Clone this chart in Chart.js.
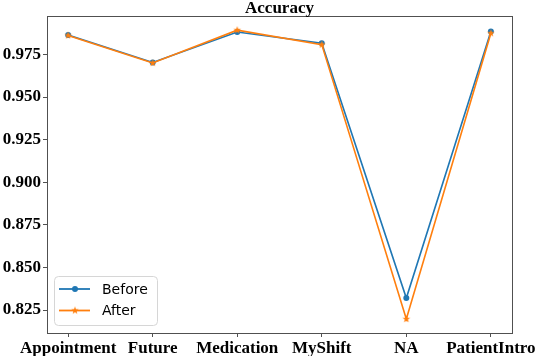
<!DOCTYPE html>
<html>
<head>
<meta charset="utf-8">
<script src="https://cdn.jsdelivr.net/npm/chart.js@4/dist/chart.umd.min.js"></script>
<style>
  html, body { margin: 0; padding: 0; background: #fff; }
  #wrap { width: 538px; height: 356px; }
</style>
</head>
<body>
<div id="wrap"><canvas id="c" width="538" height="356"></canvas></div>
<script>
const categories = ['Appointment', 'Future', 'Medication', 'MyShift', 'NA', 'PatientIntro'];
const beforeValues = [0.9865, 0.9703, 0.9882, 0.9816, 0.8320, 0.9885];
const afterValues = [0.9862, 0.9700, 0.9893, 0.9808, 0.8197, 0.9875];
const yTicks = [0.825, 0.850, 0.875, 0.900, 0.925, 0.950, 0.975];
const titleText = 'Accuracy';

const BLUE = '#1f77b4';
const ORANGE = '#ff7f0e';
const SERIF = '"Liberation Serif", "Times New Roman", serif';

function makeStar(color, r) {
  const s = Math.ceil(r * 2 + 2);
  const cv = document.createElement('canvas');
  cv.width = s; cv.height = s;
  const c = cv.getContext('2d');
  c.beginPath();
  for (let i = 0; i < 10; i++) {
    const rad = i % 2 === 0 ? r : r * 0.42;
    const a = -Math.PI / 2 + i * Math.PI / 5;
    const x = s / 2 + rad * Math.cos(a), y = s / 2 + rad * Math.sin(a);
    if (i === 0) c.moveTo(x, y); else c.lineTo(x, y);
  }
  c.closePath();
  c.fillStyle = color;
  c.fill();
  return cv;
}
const starImg = makeStar(ORANGE, 4);

const framePlugin = {
  id: 'frame',
  afterDraw(chart) {
    const {ctx, chartArea: a} = chart;
    ctx.save();
    ctx.strokeStyle = '#505050';
    ctx.lineWidth = 1;
    ctx.strokeRect(Math.round(a.left) + 0.5, Math.round(a.top) + 0.5,
                   Math.round(a.right - a.left), Math.round(a.bottom - a.top));
    // title centred over the plot area
    ctx.fillStyle = '#000';
    ctx.font = 'bold 17px ' + SERIF;
    ctx.textAlign = 'center';
    ctx.textBaseline = 'alphabetic';
    ctx.fillText(titleText, (a.left + a.right) / 2, a.top - 3);

    // legend box in lower-left of plot area
    const bx = a.left + 7, by = a.bottom - 57, bw = 103, bh = 49;
    ctx.beginPath();
    ctx.roundRect(bx + 0.5, by + 0.5, bw, bh, 4);
    ctx.fillStyle = 'rgba(255,255,255,0.8)';
    ctx.fill();
    ctx.strokeStyle = '#d6d6d6';
    ctx.stroke();
    chart.data.datasets.forEach((ds, i) => {
      const y = by + 13 + i * 21.5;
      ctx.beginPath();
      ctx.moveTo(bx + 5, y);
      ctx.lineTo(bx + 36, y);
      ctx.strokeStyle = ds.borderColor;
      ctx.lineWidth = 1.8;
      ctx.stroke();
      const mx = bx + 21;
      if (ds.pointStyle === 'circle') {
        ctx.beginPath();
        ctx.arc(mx, y, 3, 0, Math.PI * 2);
        ctx.fillStyle = ds.borderColor;
        ctx.fill();
      } else {
        ctx.drawImage(ds.pointStyle, mx - ds.pointStyle.width / 2, y - ds.pointStyle.height / 2);
      }
      ctx.fillStyle = '#000';
      ctx.font = '14px "DejaVu Sans", sans-serif';
      ctx.textAlign = 'left';
      ctx.textBaseline = 'middle';
      ctx.fillText(ds.label, bx + 48, y + 1);
    });
    ctx.restore();
  }
};

new Chart(document.getElementById('c'), {
  type: 'line',
  data: {
    datasets: [
      {
        label: 'Before',
        order: 1,
        data: beforeValues.map((v, i) => ({x: i, y: v})),
        borderColor: BLUE,
        backgroundColor: BLUE,
        borderWidth: 1.6,
        pointStyle: 'circle',
        pointRadius: 3,
        pointBorderWidth: 0,
        tension: 0
      },
      {
        label: 'After',
        order: 0,
        data: afterValues.map((v, i) => ({x: i, y: v})),
        borderColor: ORANGE,
        backgroundColor: ORANGE,
        borderWidth: 1.6,
        pointStyle: starImg,
        pointRadius: 4,
        tension: 0
      }
    ]
  },
  options: {
    responsive: false,
    animation: false,
    events: [],
    layout: { padding: { top: 16, right: 26, left: 0, bottom: 0 } },
    plugins: {
      legend: { display: false },
      title: { display: false },
      tooltip: { enabled: false }
    },
    scales: {
      x: {
        type: 'linear',
        min: -0.25,
        max: categories.length - 0.75,
        afterBuildTicks(scale) { scale.ticks = categories.map((_, i) => ({value: i})); },
        afterFit(scale) { scale.height = 23; scale.paddingLeft = 0; scale.paddingRight = 0; },
        border: { display: false },
        grid: { drawOnChartArea: false, drawTicks: true, tickLength: 4, color: '#505050' },
        ticks: {
          autoSkip: false,
          maxRotation: 0,
          padding: 1,
          color: '#000',
          font: { family: SERIF, size: 17, weight: 'bold' },
          callback: (v) => categories[v]
        }
      },
      y: {
        min: 0.8115,
        max: 0.9976,
        afterBuildTicks(scale) { scale.ticks = yTicks.map(v => ({value: v})); },
        afterFit(scale) { scale.width = 47; scale.paddingTop = 0; scale.paddingBottom = 0; },
        border: { display: false },
        grid: { drawOnChartArea: false, drawTicks: true, tickLength: 4, color: '#505050' },
        ticks: {
          padding: 2,
          color: '#000',
          font: { family: SERIF, size: 17, weight: 'bold' },
          callback: (v) => v.toFixed(3)
        }
      }
    }
  },
  plugins: [framePlugin]
});
</script>
</body>
</html>
